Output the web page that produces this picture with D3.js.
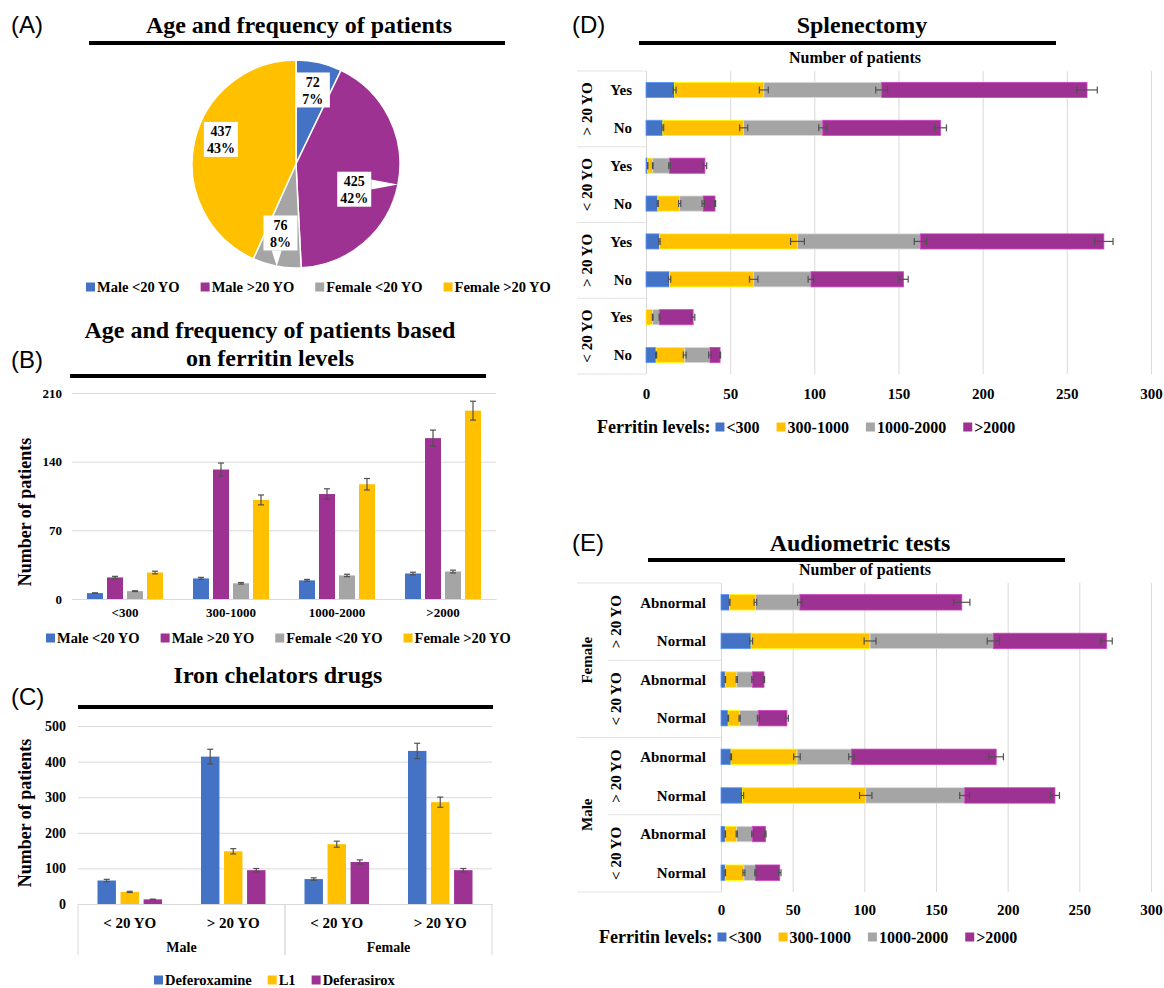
<!DOCTYPE html>
<html>
<head>
<meta charset="utf-8">
<script src="https://cdn.jsdelivr.net/npm/d3@7"></script>
<style>
  body{margin:0;background:#fff}
  svg text{font-family:"Liberation Serif","Times New Roman",serif;font-weight:bold;fill:#000}
  svg text.panel{font-family:"Liberation Sans",Arial,sans-serif;font-weight:normal}
</style>
</head>
<body>
<svg id="fig" width="1164" height="988"></svg>
<script>
/* ----- data ------------------------------------------------- */
const pieNames  = ['Male <20 YO','Male >20 YO','Female <20 YO','Female >20 YO'];
const pieCounts = [72, 425, 76, 437];

const ferritinCats  = ['<300','300-1000','1000-2000','>2000'];
const maleUnder20   = [6, 21, 19, 26];
const maleOver20    = [22, 132, 107, 164];
const femaleUnder20 = [8, 16, 24, 28];
const femaleOver20  = [27, 101, 117, 192];

const sexes     = ['Male','Female'];
const ageCats   = ['< 20 YO','> 20 YO'];
const drugNames = ['Deferoxamine','L1','Deferasirox'];
const deferoxamine = [66, 414, 70, 430];
const l1           = [34, 148, 168, 286];
const deferasirox  = [13, 95, 118, 95];

// splenectomy rows: (>20 Yes, >20 No, <20 Yes, <20 No) x 2
const splenAges = ['> 20 YO','< 20 YO','> 20 YO','< 20 YO'];
const splenRows = ['Yes','No'];
const splenLow  = [17, 10, 1, 7, 8, 14, 0, 6];
const splenMid  = [53, 48, 3, 13, 82, 50, 4, 17];
const splenHigh = [70, 47, 10, 14, 73, 34, 4, 15];
const splenVery = [122, 70, 21, 7, 109, 55, 20, 6];

// audiometric rows: Female(>20 Abn, >20 Nor, <20 Abn, <20 Nor), Male(...)
const audioSexes = ['Female','Male'];
const audioAges  = ['> 20 YO','< 20 YO'];
const audioRows  = ['Abnormal','Normal'];
const audioLow  = [6, 21, 3, 5, 7, 15, 3, 3];
const audioMid  = [18, 83, 8, 8, 46, 86, 8, 13];
const audioHigh = [31, 86, 11, 13, 38, 69, 11, 8];
const audioVery = [113, 79, 8, 20, 101, 63, 9, 17];

const errPct = 0.05;   // percentage error bars

/* ----- colours & helpers ------------------------------------ */
const blue='#4472C4', purple='#9E3292', grey='#A5A5A5', gold='#FFC000';
const groupColours    = [blue, purple, grey, gold];
const drugColours     = [blue, gold, purple];
const ferritinColours = [blue, gold, grey, purple];
const gridCol = '#D9D9D9', errCol = '#505050';

const svg = d3.select('#fig');
svg.append('rect').attr('width',1164).attr('height',988).attr('fill','#fff');

function header(letter, lx, ly, lines, cx, ty, ux0, ux1, uy){
  svg.append('text').attr('class','panel').attr('x',lx).attr('y',ly)
    .style('font-size','24px').text(letter);
  lines.forEach((t,i)=>svg.append('text')
    .attr('x',cx).attr('y',ty+i*28).attr('text-anchor','middle')
    .style('font-size','24px').text(t));
  svg.append('line').attr('x1',ux0).attr('x2',ux1).attr('y1',uy).attr('y2',uy)
    .attr('stroke','#000').attr('stroke-width',4);
}

function legend(x, y, names, colours, size, gap, prefix){
  const g = svg.append('g').attr('transform',`translate(${x},${y})`);
  let cx = 0;
  if(prefix){
    const t = g.append('text').attr('dy','0.35em').style('font-size','18px').text(prefix);
    cx = t.node().getComputedTextLength()+5;
  }
  names.forEach((n,i)=>{
    g.append('rect').attr('x',cx).attr('y',-4.5).attr('width',9).attr('height',9)
      .attr('fill',colours[i]);
    const t = g.append('text').attr('x',cx+11).attr('dy','0.35em')
      .style('font-size',size+'px').text(n);
    cx += 11 + t.node().getComputedTextLength() + gap;
  });
}

function vErr(g, x, y, v){          // vertical error bar
  const e = v*errPct;
  g.append('line').attr('x1',x).attr('x2',x).attr('y1',y(v+e)).attr('y2',y(v-e));
  [v+e, v-e].forEach(w=>g.append('line').attr('x1',x-3).attr('x2',x+3).attr('y1',y(w)).attr('y2',y(w)));
}
function hErr(g, x, yc, end, seg){  // horizontal error bar at segment end
  const e = seg*errPct;
  g.append('line').attr('y1',yc).attr('y2',yc).attr('x1',x(end-e)).attr('x2',x(end+e));
  [end-e, end+e].forEach(w=>g.append('line').attr('y1',yc-3.5).attr('y2',yc+3.5).attr('x1',x(w)).attr('x2',x(w)));
}

/* ----- (A) pie ---------------------------------------------- */
header('(A)', 11, 33, ['Age and frequency of patients'], 299, 33, 89, 505, 43);
{
  const R = 104, g = svg.append('g').attr('transform','translate(296,164)');
  const arcs = d3.pie().sort(null).value(d=>d)(pieCounts);
  const arc  = d3.arc().innerRadius(0).outerRadius(R);
  g.selectAll('path.slice').data(arcs).join('path').attr('class','slice')
    .attr('d',arc).attr('fill',(d,i)=>groupColours[i])
    .attr('stroke','#fff').attr('stroke-width',1.5);

  const total = d3.sum(pieCounts), pct = d3.format('.0%');
  const nudge = [[0.73,0],[0.61,12],[0.68,2],[0.76,6]];   // label radius factor, angle shift (deg)
  arcs.forEach((d,i)=>{
    const mid = (d.startAngle+d.endAngle)/2,
          a   = mid + nudge[i][1]*Math.PI/180,
          cx  = Math.sin(a)*R*nudge[i][0], cy = -Math.cos(a)*R*nudge[i][0],
          w = 34, h = 35, x0 = cx-w/2, x1 = cx+w/2, y0 = cy-h/2, y1 = cy+h/2,
          tx = Math.sin(mid)*R, ty = -Math.cos(mid)*R;
    let pts = null;
    const cl = (v,lo,hi)=>Math.max(lo,Math.min(hi,v));
    if(tx < x0-12){ const yy=cl(ty,y0+5,y1-5); pts=[[x0,yy-5],[x0,yy+5],[tx,ty]]; }
    else if(tx > x1+12){ const yy=cl(ty,y0+5,y1-5); pts=[[x1,yy-5],[x1,yy+5],[tx,ty]]; }
    else if(ty > y1+12){ const xx=cl(tx,x0+5,x1-5); pts=[[xx-5,y1],[xx+5,y1],[tx,ty]]; }
    else if(ty < y0-12){ const xx=cl(tx,x0+5,x1-5); pts=[[xx-5,y0],[xx+5,y0],[tx,ty]]; }
    if(pts) g.append('polygon').attr('points',pts.join(' ')).attr('fill','#fff');
    g.append('rect').attr('x',x0).attr('y',y0).attr('width',w).attr('height',h).attr('fill','#fff');
    g.append('text').attr('x',cx).attr('y',cy-3).attr('text-anchor','middle')
      .style('font-size','14px').text(d.data);
    g.append('text').attr('x',cx).attr('y',cy+14).attr('text-anchor','middle')
      .style('font-size','14px').text(pct(d.data/total));
  });
  legend(86, 287, pieNames, groupColours, 14.5, 21);
}

/* ----- (B) grouped bars by ferritin ------------------------- */
header('(B)', 11, 368, ['Age and frequency of patients based','on ferritin levels'], 270, 338, 70, 486, 376);
{
  const series = [maleUnder20, maleOver20, femaleUnder20, femaleOver20];
  const x0 = d3.scaleBand().domain(ferritinCats).range([72,496]);
  const x1 = d3.scaleBand().domain(d3.range(4)).range([0,76]).paddingInner(0.2);
  const y  = d3.scaleLinear().domain([0,210]).range([599,393]);
  const off = (x0.bandwidth()-76)/2;

  const ga = svg.append('g').attr('transform','translate(72,0)')
    .call(d3.axisLeft(y).tickValues([0,70,140,210]).tickSize(-424).tickPadding(10));
  ga.select('.domain').remove();
  ga.selectAll('line').attr('stroke',gridCol);
  ga.selectAll('text').style('font-size','13px').attr('font-family',null);

  const gx = svg.append('g').attr('transform','translate(0,599)')
    .call(d3.axisBottom(x0).tickSize(0).tickPadding(9));
  gx.select('.domain').attr('stroke',gridCol);
  gx.selectAll('text').style('font-size','13px').attr('font-family',null);

  const bars = svg.append('g');
  series.forEach((s,i)=>s.forEach((v,j)=>{
    bars.append('rect').attr('x',x0(ferritinCats[j])+off+x1(i)).attr('width',x1.bandwidth())
      .attr('y',y(v)).attr('height',y(0)-y(v)).attr('fill',groupColours[i]);
  }));
  const eg = svg.append('g').attr('stroke',errCol).attr('stroke-width',1.2);
  series.forEach((s,i)=>s.forEach((v,j)=>
    vErr(eg, x0(ferritinCats[j])+off+x1(i)+x1.bandwidth()/2, y, v)));

  svg.append('text').attr('transform','translate(25,512) rotate(-90)')
    .attr('text-anchor','middle').attr('dy','0.35em').style('font-size','18px').text('Number of patients');
  legend(46, 638, pieNames, groupColours, 14.5, 21);
}

/* ----- (C) iron chelators ----------------------------------- */
header('(C)', 11, 705, ['Iron chelators drugs'], 278, 683, 78, 493, 707);
{
  const keys = sexes.flatMap(s=>ageCats.map(a=>s+'|'+a));
  const series = [deferoxamine, l1, deferasirox];
  const x0 = d3.scaleBand().domain(keys).range([78,492]);
  const x1 = d3.scaleBand().domain(drugNames).range([0,64.5]).paddingInner(0.2);
  const y  = d3.scaleLinear().domain([0,500]).range([904,726]);
  const off = (x0.bandwidth()-64.5)/2;

  const ga = svg.append('g').attr('transform','translate(78,0)')
    .call(d3.axisLeft(y).tickValues([0,100,200,300,400,500]).tickSize(-414).tickPadding(12));
  ga.select('.domain').remove();
  ga.selectAll('line').attr('stroke',gridCol);
  ga.selectAll('text').style('font-size','14px').attr('font-family',null);

  const gx = svg.append('g').attr('transform','translate(0,904)')
    .call(d3.axisBottom(x0).tickSize(0).tickPadding(13).tickFormat(d=>d.split('|')[1]));
  gx.select('.domain').attr('stroke',gridCol);
  gx.selectAll('text').style('font-size','15px').attr('font-family',null);

  const sep = svg.append('g').attr('stroke',gridCol);
  sexes.forEach(s=>{
    const a = x0(s+'|'+ageCats[0]), b = x0(s+'|'+ageCats[1])+x0.bandwidth();
    sep.append('line').attr('x1',a).attr('x2',a).attr('y1',904).attr('y2',955);
    sep.append('line').attr('x1',b).attr('x2',b).attr('y1',904).attr('y2',955);
    svg.append('text').attr('x',(a+b)/2).attr('y',952).attr('text-anchor','middle')
      .style('font-size','14px').text(s);
  });

  series.forEach((s,i)=>s.forEach((v,j)=>{
    svg.append('rect').attr('x',x0(keys[j])+off+x1(drugNames[i])).attr('width',x1.bandwidth())
      .attr('y',y(v)).attr('height',y(0)-y(v)).attr('fill',drugColours[i]);
  }));
  const eg = svg.append('g').attr('stroke',errCol).attr('stroke-width',1.2);
  series.forEach((s,i)=>s.forEach((v,j)=>
    vErr(eg, x0(keys[j])+off+x1(drugNames[i])+x1.bandwidth()/2, y, v)));

  svg.append('text').attr('transform','translate(25,813) rotate(-90)')
    .attr('text-anchor','middle').attr('dy','0.35em').style('font-size','18px').text('Number of patients');
  legend(154, 980, drugNames, drugColours, 14.5, 16);
}

/* ----- stacked horizontal bars (D, E) ----------------------- */
function stackedPanel(o){
  const n = o.low.length;
  const rows = d3.range(n).map(i=>({low:o.low[i],mid:o.mid[i],high:o.high[i],very:o.very[i]}));
  const keys = ['low','mid','high','very'];
  const stack = d3.stack().keys(keys)(rows);
  const x = d3.scaleLinear().domain([0,300]).range([o.x0,o.x1]);
  const y = d3.scaleBand().domain(d3.range(n)).range([o.top,o.bottom]).paddingInner(0.6).paddingOuter(0.3);
  const step = (o.bottom-o.top)/n;

  const gx = svg.append('g').attr('transform',`translate(0,${o.bottom})`)
    .call(d3.axisBottom(x).tickValues([0,50,100,150,200,250,300]).tickSize(-(o.bottom-o.top)).tickPadding(o.pad));
  gx.select('.domain').remove();
  gx.selectAll('line').attr('stroke',gridCol);
  gx.selectAll('text').style('font-size','15px').attr('font-family',null);

  svg.append('text').attr('x',o.titleX).attr('y',o.top-8).attr('text-anchor','middle')
    .style('font-size','16px').text('Number of patients');

  // category box
  const box = svg.append('g').attr('stroke','#E3E3E3');
  o.hLines.forEach(([r,xs])=>box.append('line')
    .attr('x1',xs).attr('x2',o.x0).attr('y1',o.top+r*step).attr('y2',o.top+r*step));
  o.outer.forEach(([lab,r0,r1,xc])=>svg.append('text')
    .attr('transform',`translate(${xc},${o.top+(r0+r1)/2*step}) rotate(-90)`)
    .attr('text-anchor','middle').attr('dy','0.35em').style('font-size','15px').text(lab));
  d3.range(n).forEach(i=>svg.append('text').attr('x',o.labelX).attr('y',y(i)+y.bandwidth()/2)
    .attr('dy','0.35em').attr('text-anchor','end').style('font-size','15px').text(o.rowNames[i%2]));

  stack.forEach((layer,k)=>layer.forEach((d,i)=>{
    if(d[1]<=d[0]) return;
    svg.append('rect').attr('x',x(d[0])).attr('width',x(d[1])-x(d[0]))
      .attr('y',y(i)).attr('height',y.bandwidth()).attr('fill',ferritinColours[k])
      .attr('stroke',d3.color(ferritinColours[k]).brighter(0.8)).attr('stroke-width',0.8);
  }));
  const eg = svg.append('g').attr('stroke',errCol).attr('stroke-width',1.2);
  stack.forEach(layer=>layer.forEach((d,i)=>{
    const seg = d[1]-d[0];
    if(seg>0) hErr(eg, x, y(i)+y.bandwidth()/2, d[1], seg);
  }));
  legend(o.legX, o.legY, ferritinCats, ferritinColours, 16, 17, 'Ferritin levels:');
}

header('(D)', 572, 33, ['Splenectomy'], 862, 33, 639, 1056, 43);
stackedPanel({
  low:splenLow, mid:splenMid, high:splenHigh, very:splenVery,
  x0:646, x1:1151, top:71, bottom:374, pad:14, titleX:855,
  rowNames:splenRows, labelX:632,
  hLines:[[0,577],[2,577],[4,577],[6,577],[8,577]],
  outer:splenAges.map((a,g)=>[a,2*g,2*g+2,587]),
  legX:597, legY:427
});

header('(E)', 572, 551, ['Audiometric tests'], 860, 551, 648, 1065, 560);
stackedPanel({
  low:audioLow, mid:audioMid, high:audioHigh, very:audioVery,
  x0:721, x1:1151, top:583, bottom:892, pad:12, titleX:865,
  rowNames:audioRows, labelX:706,
  hLines:[[0,577],[2,608],[4,577],[6,608],[8,577]],
  outer:[...audioSexes.map((s,k)=>[s,4*k,4*k+4,587]),
         ...audioSexes.flatMap((s,k)=>audioAges.map((a,j)=>[a,4*k+2*j,4*k+2*j+2,616]))],
  legX:599, legY:937
});
</script>
</body>
</html>
